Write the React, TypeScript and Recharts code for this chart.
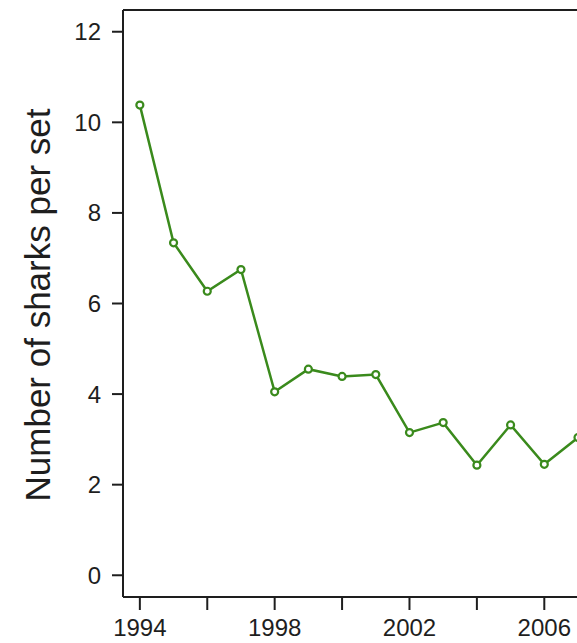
import React from "react";
import { LineChart, Line, XAxis, YAxis, ReferenceLine } from "recharts";

const years = [1994, 1995, 1996, 1997, 1998, 1999, 2000, 2001, 2002, 2003, 2004, 2005, 2006, 2007];
const sharksPerSet = [10.38, 7.34, 6.27, 6.75, 4.05, 4.55, 4.39, 4.43, 3.15, 3.37, 2.43, 3.32, 2.45, 3.04];
const xTicks = [1994, 1996, 1998, 2000, 2002, 2004, 2006];
const xTickLabels = ["1994", "", "1998", "", "2002", "", "2006"];
const yTicks = [0, 2, 4, 6, 8, 10, 12];
const yLabel = "Number of sharks per set";

const data = years.map((y, i) => ({ year: y, value: sharksPerSet[i] }));

const FONT = "'Liberation Sans', Arial, Helvetica, sans-serif";
const INK = "#1e1e1e";
const GREEN = "#3a8a1c";

const YLabel = () => (
  <text
    x={50}
    y={305}
    transform="rotate(-90 50 305)"
    textAnchor="middle"
    fontFamily={FONT}
    fontSize={35}
    fill={INK}
  >
    {yLabel}
  </text>
);

export default function App() {
  return (
    <div style={{ position: "absolute", left: 0, top: 0, width: 577, height: 643, overflow: "hidden", background: "#fff" }}>
      <LineChart width={578} height={643} data={data} margin={{ top: 10, right: 0, bottom: 0, left: 0 }}>
        <XAxis
          dataKey="year"
          type="number"
          domain={[1993.5, 2007]}
          ticks={xTicks}
          tickFormatter={(v: number) => xTickLabels[xTicks.indexOf(v)] ?? ""}
          height={46}
          tickSize={13}
          tickMargin={9}
          axisLine={{ stroke: INK, strokeWidth: 2 }}
          tickLine={{ stroke: INK, strokeWidth: 2 }}
          tick={{ fill: INK, fontSize: 24, fontFamily: FONT }}
          allowDataOverflow
        />
        <YAxis
          type="number"
          domain={[-0.48, 12.48]}
          ticks={yTicks}
          width={123}
          tickSize={11}
          tickMargin={11}
          axisLine={{ stroke: INK, strokeWidth: 2 }}
          tickLine={{ stroke: INK, strokeWidth: 2 }}
          tick={{ fill: INK, fontSize: 24, fontFamily: FONT }}
          allowDataOverflow
        />
        <ReferenceLine y={12.48} stroke={INK} strokeWidth={2} />
        <Line
          dataKey="value"
          stroke={GREEN}
          strokeWidth={2.5}
          dot={{ r: 3.5, stroke: GREEN, strokeWidth: 2.2, fill: "#fff" }}
          isAnimationActive={false}
        />
        <YLabel />
      </LineChart>
    </div>
  );
}
